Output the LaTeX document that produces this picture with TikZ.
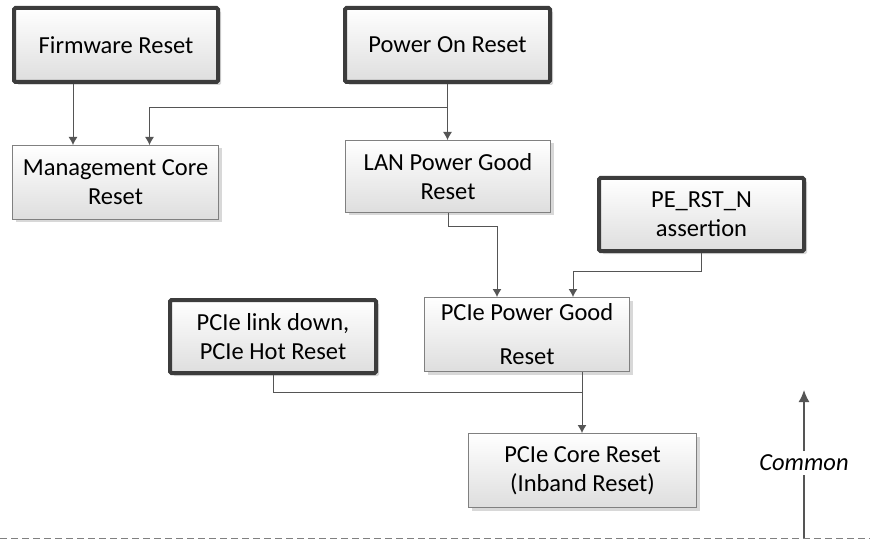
\documentclass[tikz,border=0pt]{standalone}
\usepackage{fontspec}
\setmainfont{Carlito}
\usetikzlibrary{shapes,shadows,arrows.meta}
\definecolor{edge}{HTML}{3C3C3C}
\definecolor{wire}{HTML}{555555}
\tikzstyle{box}=[rectangle,draw=gray,line width=1pt,text=black,top color=white,bottom color=black!13,drop shadow={shadow xshift=3pt,shadow yshift=-3pt,fill=black!30},align=center,inner sep=0pt,font=\fontsize{24.5}{29}\selectfont]
\tikzstyle{trigger}=[box,draw=edge,line width=4pt,rounded corners=1.5pt]

\begin{document}
\begin{tikzpicture}[x=1pt,y=-1pt,->,>={Latex[length=8pt,width=9pt]},color=wire,line width=1pt]
    \useasboundingbox (0,0) rectangle (870,540);
    % sources
    \node[trigger,minimum width=204pt,minimum height=74pt] (FW)  at (116,45)    {Firmware Reset};
    \node[trigger,minimum width=205pt,minimum height=74pt] (POR) at (447.5,45)  {Power On Reset};
    \node[trigger,minimum width=205pt,minimum height=73pt] (PE)  at (701.5,214.5) {PE\_RST\_N\\assertion};
    \node[trigger,minimum width=206pt,minimum height=73pt] (LD)  at (273,336.5) {PCIe link down,\\PCIe Hot Reset};
    % resets
    \node[box,minimum width=206pt,minimum height=74pt] (MC)  at (115.5,182.5) {Management Core\\Reset};
    \node[box,minimum width=205pt,minimum height=72pt] (LAN) at (448,176.5)   {LAN Power Good\\Reset};
    \node[box,minimum width=205pt,minimum height=74pt] (PG)  at (527,334.5)   {PCIe Power Good\\[15pt]Reset};
    \node[box,minimum width=228pt,minimum height=74pt] (CR)  at (582.5,470.5) {PCIe Core Reset\\(Inband Reset)};
    \coordinate (fwout) at ([xshift=-43pt]FW.south);
    \coordinate (split) at (447.5,108);
    \coordinate (pgout) at ([xshift=55pt]PG.south);
    \draw (fwout) -- (fwout |- MC.north);
    \draw (POR.south) -- (POR.south |- LAN.north);
    \draw (split) -| ([xshift=34pt]MC.north);
    \draw (LAN.south) -- ++(0,14) -| ([xshift=-30pt]PG.north);
    \draw (PE.south) -- ++(0,18) -| ([xshift=46pt]PG.north);
    \draw (pgout) -- (pgout |- CR.north);
    \draw[-] (LD.south) |- ([yshift=-20pt]pgout);
    % common marker
    \coordinate (lineL) at (0,538);
    \coordinate (lineR) at (870,538);
    \coordinate (base) at (804,538);
    \coordinate (top) at (804,390);
    \node[text=black,font=\itshape\fontsize{24.5}{29}\selectfont] (common) at (804,463) {Common};
    \draw[-,dashed,dash pattern=on 7pt off 4pt,gray] (lineL) -- (lineR);
    \draw[-,line width=1.5pt] (base) -- (common);
    \draw[line width=1.5pt,>={Latex[length=12pt,width=11pt]}] (common) -- (top);
  \end{tikzpicture}
\end{document}
